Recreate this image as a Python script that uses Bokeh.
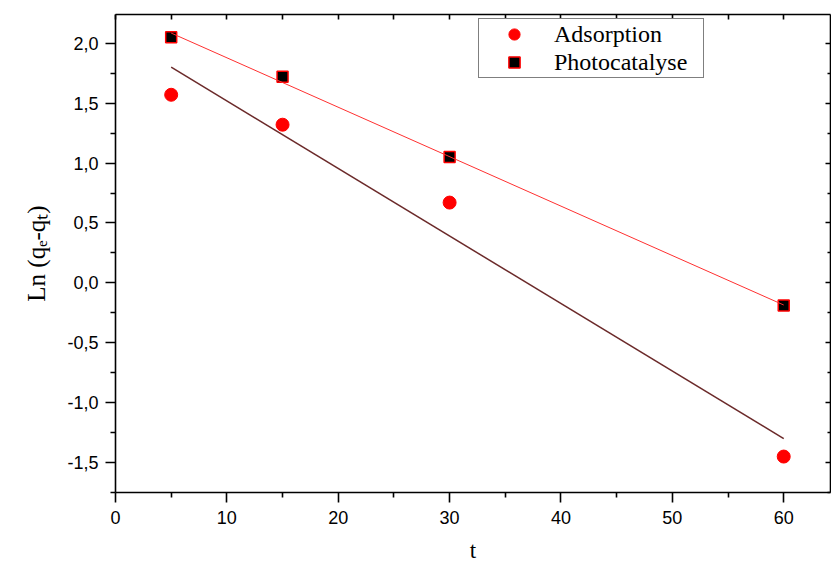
from bokeh.plotting import figure
from bokeh.models import Range1d, LinearAxis, FixedTicker, CustomJSTickFormatter, Legend, LegendItem, ColumnDataSource
from bokeh.embed import file_html
from bokeh.resources import INLINE

# data
t_values = [5, 15, 30, 60]
adsorption = [1.57, 1.32, 0.67, -1.45]
photocatalyse = [2.05, 1.72, 1.05, -0.19]
fit_t = [5, 60]
adsorption_fit = [1.80, -1.30]
photocatalyse_fit = [2.085, -0.185]
x_major = [0, 10, 20, 30, 40, 50, 60]
x_minor = [5, 15, 25, 35, 45, 55]
y_major = [-1.5, -1.0, -0.5, 0.0, 0.5, 1.0, 1.5, 2.0]
y_minor = [-1.75, -1.25, -0.75, -0.25, 0.25, 0.75, 1.25, 1.75]

p = figure(width=831, height=566, x_range=Range1d(0, 64.2), y_range=Range1d(-1.75, 2.24),
           output_backend="svg", toolbar_location=None,
           min_border_left=115, min_border_right=1, min_border_top=14, min_border_bottom=74)
p.background_fill_color = "white"
p.border_fill_color = "white"
p.grid.visible = False
p.outline_line_color = None

comma = CustomJSTickFormatter(code="return tick.toFixed(1).replace('.', ',');")
blank = CustomJSTickFormatter(code="return '';")

for ax in (p.xaxis[0], p.yaxis[0]):
    ax.axis_line_width = 1.6
    ax.major_tick_line_width = 1.6
    ax.minor_tick_line_width = 1.6
    ax.major_tick_out = 10
    ax.major_tick_in = 0
    ax.minor_tick_out = 5
    ax.minor_tick_in = 0
    ax.major_label_text_font = "Liberation Sans"
    ax.major_label_text_font_size = "18px"
    ax.major_label_text_color = "black"
    ax.axis_label_text_font = "Liberation Serif"
    ax.axis_label_text_font_style = "normal"
    ax.axis_label_text_color = "black"

p.xaxis[0].ticker = FixedTicker(ticks=x_major, minor_ticks=x_minor)
p.xaxis[0].axis_label = "t"
p.xaxis[0].axis_label_text_font_size = "23px"
p.xaxis[0].major_label_standoff = 8
p.xaxis[0].axis_label_standoff = 11

p.yaxis[0].ticker = FixedTicker(ticks=y_major, minor_ticks=y_minor)
p.yaxis[0].formatter = comma
p.yaxis[0].axis_label = "Ln (qₑ-qₜ)"
p.yaxis[0].axis_label_text_font_size = "25px"
p.yaxis[0].major_label_standoff = 7
p.yaxis[0].axis_label_standoff = 14

top = LinearAxis(ticker=FixedTicker(ticks=x_major + x_minor, minor_ticks=[]), formatter=blank,
                 major_tick_in=5, major_tick_out=0, major_label_text_font_size="1px",
                 major_label_standoff=0, axis_line_width=1.6, major_tick_line_width=1.6)
right = LinearAxis(ticker=FixedTicker(ticks=y_major, minor_ticks=y_minor), formatter=blank,
                   major_tick_in=5, major_tick_out=0, minor_tick_in=3, minor_tick_out=0,
                   major_label_text_font_size="1px", major_label_standoff=0,
                   axis_line_width=1.6, major_tick_line_width=1.6, minor_tick_line_width=1.6)
p.add_layout(top, "above")
p.add_layout(right, "right")

src = ColumnDataSource(dict(t=t_values, ads=adsorption, pho=photocatalyse))
fit = ColumnDataSource(dict(t=fit_t, ads=adsorption_fit, pho=photocatalyse_fit))

r_ads = p.scatter("t", "ads", source=src, marker="circle", size=13, fill_color="#ff0000", line_color="#ff0000")
r_pho = p.scatter("t", "pho", source=src, marker="square", size=11, fill_color="black", line_color="#ff0000", line_width=1.5)
p.line("t", "ads", source=fit, line_color="#6b2a2a", line_width=1.5)
p.line("t", "pho", source=fit, line_color="#ff3030", line_width=1)

legend = Legend(items=[LegendItem(label="Adsorption", renderers=[r_ads]),
                       LegendItem(label="Photocatalyse", renderers=[r_pho])],
                location=(363, 414), margin=0, padding=1, spacing=0,
                glyph_width=68, glyph_height=28, label_height=28, label_width=148,
                label_standoff=6, label_text_font="Liberation Serif", label_text_font_size="24px",
                label_text_color="black", border_line_color="black", border_line_width=1.2,
                background_fill_color="white", background_fill_alpha=1)
p.add_layout(legend, "center")

open("out.html", "w").write(file_html(p, INLINE))
